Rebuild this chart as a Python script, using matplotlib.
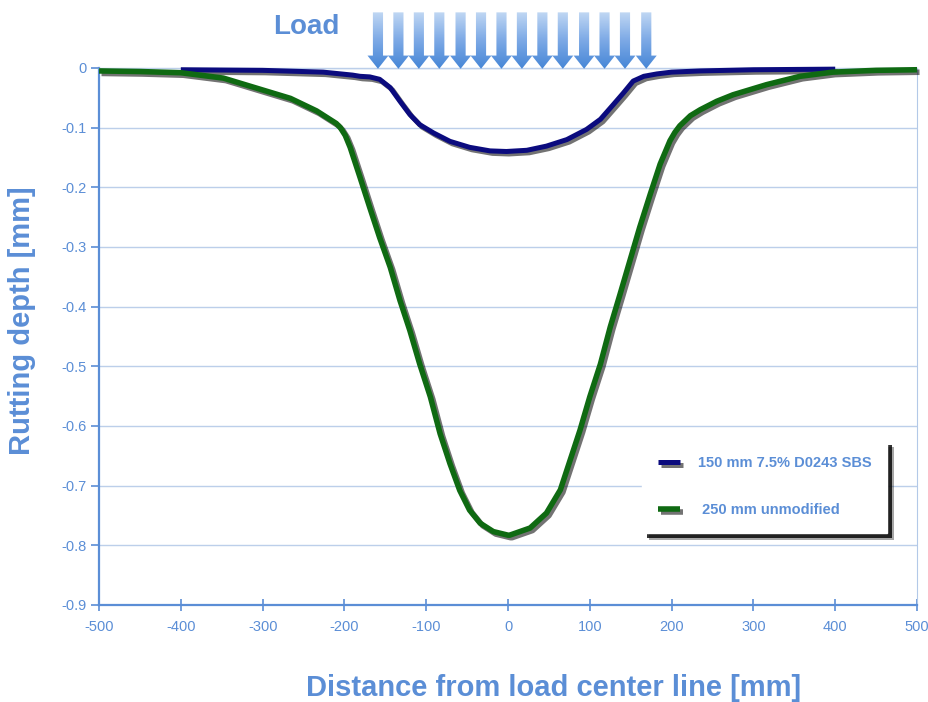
import matplotlib
matplotlib.use("Agg")
import matplotlib.pyplot as plt
import matplotlib.patheffects as pe
from matplotlib.path import Path
from matplotlib.patches import PathPatch
import numpy as np

# 150 mm 7.5% D0243 SBS
sbs_x = [-400, -300, -226, -190, -181, -169, -157, -144, -132, -120, -108, -91, -71, -47, -22, -2,
         23, 47, 72, 96, 113, 129, 141, 153, 166, 182, 200, 235, 300, 400]
sbs_y = [-0.003, -0.004, -0.007, -0.012, -0.014, -0.015, -0.019, -0.033, -0.056, -0.078, -0.095, -0.109,
         -0.123, -0.133, -0.139, -0.140, -0.138, -0.131, -0.120, -0.103, -0.086, -0.061, -0.042, -0.022,
         -0.014, -0.010, -0.007, -0.005, -0.003, -0.002]

# 250 mm unmodified
unm_x = [-500, -450, -400, -348, -307, -266, -234, -218, -210, -205, -199, -193, -181, -169, -157, -144,
         -132, -120, -108, -95, -83, -71, -59, -47, -34, -18, 0, 2, 27, 47, 64, 76, 88, 100, 113, 125,
         137, 149, 161, 174, 186, 198, 204, 210, 223, 235, 255, 275, 316, 357, 397, 450, 500]
unm_y = [-0.005, -0.006, -0.008, -0.017, -0.034, -0.051, -0.072, -0.086, -0.093, -0.100, -0.113, -0.133,
         -0.183, -0.234, -0.284, -0.334, -0.390, -0.440, -0.496, -0.551, -0.613, -0.663, -0.708, -0.741,
         -0.763, -0.777, -0.783, -0.783, -0.771, -0.746, -0.707, -0.657, -0.607, -0.551, -0.496, -0.434,
         -0.379, -0.323, -0.267, -0.211, -0.161, -0.122, -0.108, -0.097, -0.080, -0.070, -0.056, -0.045,
         -0.028, -0.014, -0.007, -0.004, -0.003]

labels = ["150 mm 7.5% D0243 SBS", " 250 mm unmodified"]
x_ticks = [-500, -400, -300, -200, -100, 0, 100, 200, 300, 400, 500]
y_ticks = [0, -0.1, -0.2, -0.3, -0.4, -0.5, -0.6, -0.7, -0.8, -0.9]
load_x = [-159, -134, -109, -84, -58, -33, -8, 17, 42, 67, 93, 118, 143, 169]

txt = '#5b8ed6'

fig = plt.figure(figsize=(9.29, 7.02), dpi=100)
ax = fig.add_axes([0.1066, 0.1382, 0.8805, 0.765])

shadow = [pe.SimpleLineShadow(offset=(1.8, -1.8), shadow_color='black', alpha=0.55), pe.Normal()]
ax.plot(sbs_x, sbs_y, color='#0b0b7e', lw=3.6, label=labels[0], clip_on=False,
        path_effects=shadow, solid_capstyle='butt', solid_joinstyle='round', zorder=3)
ax.plot(unm_x, unm_y, color='#0f6a12', lw=4.0, label=labels[1], clip_on=False,
        path_effects=shadow, solid_capstyle='butt', solid_joinstyle='round', zorder=3)

ax.set_xlim(-500, 500)
ax.set_ylim(-0.9, 0)
ax.set_xticks(x_ticks)
ax.set_xticklabels([str(v) for v in x_ticks], family='Liberation Sans', fontsize=10.5, color=txt)
ax.set_yticks(y_ticks)
ax.set_yticklabels(['0'] + ['%.1f' % v for v in y_ticks[1:]], family='Liberation Sans', fontsize=10.5, color=txt)
ax.yaxis.grid(True, color='#bccfea', lw=1.0)
ax.set_axisbelow(True)
ax.tick_params(axis='y', direction='out', length=6, width=1.2, color='#5b8ed6', pad=3)
ax.tick_params(axis='x', direction='inout', length=8, width=1.2, color='#5b8ed6', pad=7)
for s in ['left', 'bottom']:
    ax.spines[s].set_color('#5b8ed6')
    ax.spines[s].set_linewidth(1.6)
ax.spines['right'].set_color('#b3c9e8')
ax.spines['top'].set_color('#bccfea')
ax.spines['top'].set_linewidth(1.0)

leg = ax.legend(loc='upper left', bbox_to_anchor=(0.655, 0.32), frameon=True, fancybox=False,
                framealpha=1.0, handlelength=1.5, handletextpad=1.2, labelspacing=2.25, borderpad=1.1,
                prop={'family': 'Liberation Sans', 'weight': 'bold', 'size': 10.5})
frame = leg.get_frame()
frame.set_edgecolor('white')
frame.set_facecolor('white')
frame.set_path_effects([pe.SimplePatchShadow(offset=(5, -5), shadow_rgbFace='black', alpha=0.35),
                        pe.SimplePatchShadow(offset=(3.5, -3.5), shadow_rgbFace='black', alpha=0.8),
                        pe.Normal()])
for t in leg.get_texts():
    t.set_color(txt)

fig.text(0.596, 0.02, 'Distance from load center line [mm]', ha='center', va='center',
         family='Liberation Sans', weight='bold', fontsize=21, color=txt)
fig.text(0.024, 0.543, 'Rutting depth [mm]', ha='center', va='center', rotation=90,
         family='Liberation Sans', weight='bold', fontsize=21, color=txt)
fig.text(0.330, 0.962, 'Load', ha='center', va='center',
         family='Liberation Sans', weight='bold', fontsize=20, color=txt)

# load arrows with a vertical gradient
ax_load = fig.add_axes([0.1066, 0.9003, 0.8805, 0.0855])
ax_load.set_xlim(-500, 500)
ax_load.set_ylim(0, 1)
ax_load.axis('off')
paths = []
sw, hw = 6.2, 12.8
for cx in load_x:
    verts = [(cx - sw, 0.96), (cx + sw, 0.96), (cx + sw, 0.24), (cx + hw, 0.24), (cx, 0.02),
             (cx - hw, 0.24), (cx - sw, 0.24), (cx - sw, 0.96)]
    codes = [Path.MOVETO] + [Path.LINETO] * 6 + [Path.CLOSEPOLY]
    paths.append(Path(verts, codes))
clip = PathPatch(Path.make_compound_path(*paths), facecolor='none', edgecolor='none')
ax_load.add_patch(clip)
grad = np.linspace(0, 1, 100).reshape(-1, 1)
cmap = matplotlib.colors.LinearSegmentedColormap.from_list('arr', ['#4485d6', '#7eaae6', '#c7dcf5'])
im = ax_load.imshow(grad, cmap=cmap, extent=(-500, 500, 0, 1), origin='lower', aspect='auto')
im.set_clip_path(clip)

fig.savefig('out.png', dpi=100)
